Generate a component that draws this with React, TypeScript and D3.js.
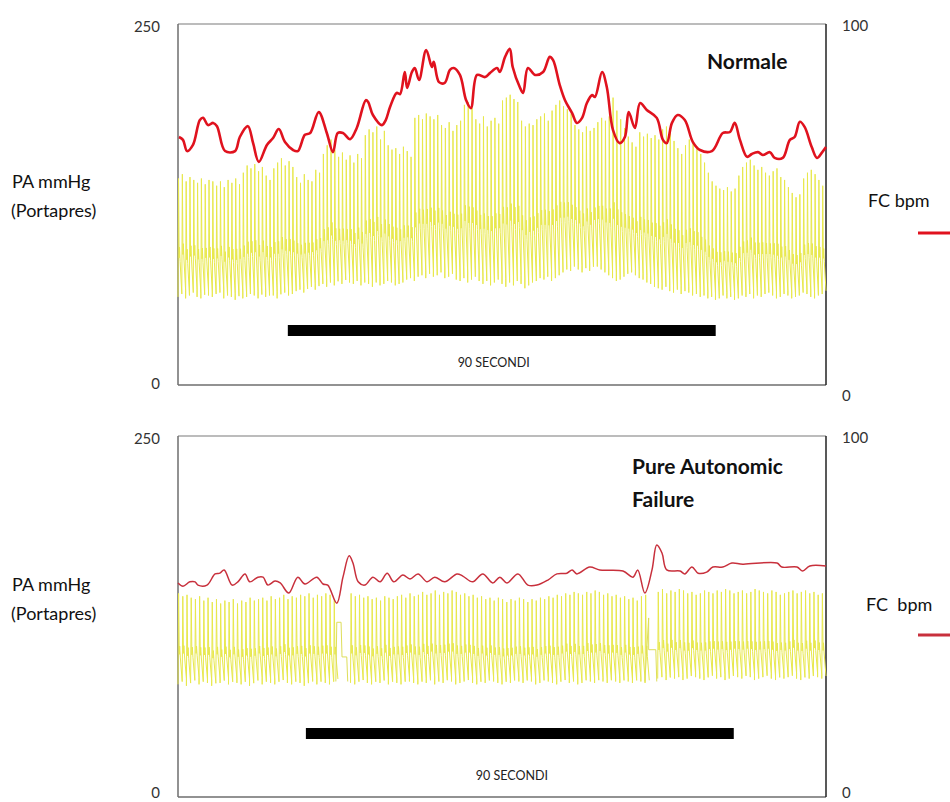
import React from "react";
import * as d3 from "d3";

// ---- time axis (seconds) ----
const T_TOTAL = 136.3;

// ---- Top panel (Normale): heart rate FC bpm ----
const hrTopTime = [0.2,1.05,1.9,3.15,4.6,5.3,6.3,7.4,8.2,9.9,12.0,13.0,14.7,15.8,17.0,18.7,20.0,21.2,22.5,24.2,25.2,26.7,27.8,29.6,31.3,32.6,33.6,34.7,36.2,37.6,39.5,40.0,41.0,42.9,43.7,44.6,46.0,46.7,47.7,48.2,49.2,49.8,50.7,52.2,53.4,53.8,54.9,56.1,57.2,58.0,59.3,60.6,61.6,62.9,64.6,65.6,67.1,67.7,68.8,69.8,70.4,71.9,72.6,73.6,75.1,76.8,78.2,78.9,80.3,81.4,82.9,83.9,85.0,86.0,87.1,87.7,89.2,90.2,91.5,92.9,94.0,94.8,96.1,97.2,98.6,100.7,102.0,102.8,103.9,105.1,106.6,108.3,109.8,112.3,114.6,116.1,117.1,118.2,119.7,120.7,122.0,123.0,124.5,125.5,127.2,128.7,129.7,130.8,131.8,133.3,134.4,135.4,136.3];
const hrTopBpm = [68.7,67.9,64.8,66.5,73.4,74.0,72.0,72.6,71.7,64.8,64.8,68.7,71.7,67.0,61.8,66.5,68.4,70.9,67.3,65.1,64.8,69.3,69.8,75.6,69.8,64.5,69.8,69.8,68.1,71.2,78.9,78.4,74.8,72.0,73.4,77.0,80.9,80.6,86.7,82.3,86.7,87.8,84.5,92.8,88.1,89.5,83.9,83.7,87.3,87.8,85.9,78.9,76.7,85.9,85.3,86.4,87.8,86.7,90.9,93.1,88.1,82.5,80.9,87.8,85.9,86.7,90.9,90.0,83.1,78.9,75.3,72.6,74.0,78.1,80.3,79.8,86.7,82.5,70.6,67.0,68.7,75.6,71.2,78.1,76.2,74.0,67.9,67.0,72.6,74.8,73.4,67.3,65.1,64.8,69.8,70.1,72.6,67.9,63.2,64.0,64.5,63.7,64.5,62.9,62.9,67.9,68.7,72.9,71.5,65.9,62.9,64.3,65.9];

// ---- Top panel: blood pressure per beat (mmHg) ----
const bpTopSys = [
  143,146,141,144,142, 140,143,139,142,141, 138,141,137,142,140, 143,139,147,152,150,
  153,148,151,145,142, 150,154,157,152,155, 151,144,140,146,142, 141,149,147,160,166,
  170,163,158,161,156, 159,154,160,157,173, 177,175,179,170,176, 166,163,164,160,165,
  162,158,185,187,184, 188,186,184,187,180, 178,182,176,180,183, 194,196,192,184,181,
  186,179,183,185,181, 197,199,201,198,196, 183,179,181,180,184, 186,188,183,190,194,
  197,193,191,188,180, 177,175,179,176,178, 182,185,183,186,199, 190,184,178,172,168,
  165,175,172,174,171, 173,170,177,179,175, 169,164,160,166,170, 168,165,160,154,147,
  141,138,136,135,137, 134,136,145,151,154, 156,152,149,151,147, 145,148,150,144,142,
  137,133,130,132,143, 147,149,146,142,138
];
const bpTopDia = [
  61,63,60,62,64,61,60,63,62,61, 63,64,60,62,61,59,62,60,61,63,
  62,60,63,61,62,62,60,63,64,62, 63,65,66,64,67,68,66,69,70,68,
  71,69,72,70,73,71,70,72,69,71, 70,68,71,69,70,72,71,69,70,71,
  73,74,72,75,76,74,77,75,76,78, 74,75,77,73,72,74,71,73,75,72,
  70,72,69,71,73,70,68,71,69,72, 70,67,69,71,72,74,73,75,72,74,
  76,78,80,79,82,80,78,81,79,83, 82,80,78,76,74,72,73,75,77,78,
  76,74,73,71,70,68,67,66,68,65, 64,66,63,65,64,62,63,61,62,60,
  61,59,60,62,60,61,59,60,62,61, 63,60,62,61,63,64,62,60,61,63,
  62,60,61,62,64,63,61,60,62,63
];

// ---- Bottom panel (Pure Autonomic Failure): heart rate ----
const hrBotTime = [0,1.05,2.5,3.6,4.2,6.1,7.8,8.8,9.7,11.4,12.6,14.1,15.1,16.8,17.9,18.9,20.4,21.5,23.3,25.2,26.7,29.2,30.5,31.5,33.4,34.7,36.0,36.8,37.9,39.3,41.0,42.5,44.0,45.4,47.3,48.8,50.5,52.4,54.0,56.1,58.7,59.9,62.0,64.1,66.2,67.7,69.2,71.5,73.6,75.5,77.8,79.7,81.8,82.9,83.9,86.6,88.7,93.6,95.7,96.7,98.2,99.7,100.7,101.8,102.8,105.6,106.6,108.1,109.4,111.2,112.5,114.6,116.5,118.8,126.0,127.0,130.2,131.4,132.9,136.3];
const hrBotBpm = [59.3,58.4,59.6,59.6,58.7,58.7,61.8,62.0,62.9,58.7,59.6,61.8,59.6,60.9,60.9,58.7,59.8,59.3,56.5,60.9,59.0,60.9,59.0,58.7,53.7,60.9,66.8,64.8,59.6,58.7,60.9,59.6,62.0,59.6,61.5,60.4,61.8,59.6,60.9,59.6,61.8,61.2,59.6,61.8,59.3,60.9,59.3,61.8,58.7,58.7,60.1,61.8,62.0,62.9,61.8,63.7,62.9,62.6,60.9,62.9,56.5,62.9,69.8,67.6,62.9,62.6,61.8,63.7,62.0,62.3,63.7,63.7,64.8,64.5,64.8,63.7,63.7,62.6,64.0,64.0];

// ---- Bottom panel: blood pressure per beat (null = Portapres calibration gap) ----
const bpBotSys = [
  141,139,140,138,137,139,136,138,135,137, 134,136,135,137,134,136,135,138,136,137,
  138,136,139,137,138,140,137,139,138,140, 139,141,138,140,139,141,140,137,null,null,
  null,141,139,140,138,139,137,138,136,139, 138,137,139,140,138,141,139,140,142,140,
  141,143,140,142,141,143,142,140,141,139, 140,138,139,137,138,136,138,137,135,137,
  136,138,137,135,137,136,138,137,139,138, 140,139,141,140,142,141,140,142,141,143,
  142,140,141,139,140,138,139,137,138,136, 139,140,null,null,142,144,141,143,142,144,
  143,141,142,140,141,143,142,141,143,142, 144,143,141,142,143,141,142,144,143,142,
  141,143,142,140,141,142,143,141,142,143, 141,142,140,141
];
const bpBotDia = [
  78,80,77,79,81,78,80,79,77,80, 79,81,78,80,79,78,80,77,79,81,
  78,80,79,78,80,81,79,78,80,79, 77,79,80,78,80,79,78,80,null,null,
  null,79,78,80,81,79,78,80,79,81, 78,80,79,78,81,80,79,78,80,79,
  81,78,80,79,81,80,78,79,80,81, 79,78,80,79,81,80,79,78,80,79,
  81,80,79,81,80,78,79,81,80,79, 78,80,81,79,80,78,79,81,80,79,
  81,80,79,81,80,79,81,80,79,81, 80,79,null,null,82,83,81,84,82,83,
  81,82,84,83,82,81,83,84,82,83, 81,82,84,83,82,84,83,81,82,83,
  84,82,81,83,82,83,84,82,81,83, 82,84,83,82
];
// calibration traces inside the gaps (seconds, mmHg)
const calBotTime = [[33.2,33.4,34.3,34.5,35.5,35.7],[98.2,99.0,99.0,100.5,100.7]];
const calBotLevel = [[80,121,121,97,97,80],[80,124,102,102,80]];

// ---- 90 s marker bars (start seconds, duration) ----
const barStart = [23.1, 26.9];
const barDuration = 90;

// ---- axes ticks ----
const leftTicks = [0, 250];
const rightTicks = [0, 100];

// beat waveform shape (fraction of beat period, fraction of pulse pressure)
const beatShape: [number, number][] = [[0, 0], [0.14, 1], [0.3, 0.33], [0.4, 0.42], [0.55, 0.3], [1, 0.03]];

const X0 = 178, X1 = 826;
const FONT = "Lato, 'Open Sans', sans-serif";

function wavePath(sys: (number | null)[], dia: (number | null)[], x: any, y: any) {
  const n = sys.length;
  const p = T_TOTAL / n;
  let d = "";
  let penUp = true;
  for (let i = 0; i < n; i++) {
    const s = sys[i], di = dia[i];
    if (s == null || di == null) { penUp = true; continue; }
    for (const [f, l] of beatShape) {
      const px = x(i * p + f * p), py = y(di + l * (s - di));
      d += (penUp ? "M" : "L") + px.toFixed(2) + "," + py.toFixed(2);
      penUp = false;
    }
  }
  return d;
}

function Panel(props: any) {
  const { top, bottom, hrT, hrV, sys, dia, calT, calL, bar, title, titleX, titleY, hrColor, hrWidth, fcLabel, legendY, fcY, paY, barY, secY } = props;
  const x = d3.scaleLinear().domain([0, T_TOTAL]).range([X0, X1]);
  const yBP = d3.scaleLinear().domain([0, 250]).range([bottom, top]);
  const yHR = d3.scaleLinear().domain([0, 100]).range([bottom, top]);
  const hrLine = d3.line<number>().x((_, i) => x(hrT[i])).y((v) => yHR(v)).curve(d3.curveCatmullRom.alpha(0.5));
  const wp = wavePath(sys, dia, x, yBP);
  return (
    <g>
      {/* frame */}
      <line x1={X0} x2={X1} y1={top} y2={top} stroke="#a6a6a6" strokeWidth={1.5} />
      <line x1={X0} x2={X1} y1={bottom} y2={bottom} stroke="#6e6e6e" strokeWidth={1.5} />
      <line x1={X0} x2={X0} y1={top} y2={bottom} stroke="#6e6e6e" strokeWidth={1.5} />
      <line x1={X1} x2={X1} y1={top} y2={bottom} stroke="#222" strokeWidth={1.5} />
      {/* BP waveform */}
      <path d={wp} fill="none" stroke="#e8e84c" strokeWidth={1} strokeLinejoin="round" />
      {calT && calT.map((ts: number[], k: number) => (
        <path key={k} fill="none" stroke="#dede5a" strokeWidth={1}
          d={d3.line<number>().x((_, i) => x(ts[i])).y((v) => yBP(v))(calL[k]) || ""} />
      ))}
      {/* HR */}
      <path d={hrLine(hrV) || ""} fill="none" stroke={hrColor} strokeWidth={hrWidth} strokeLinejoin="round" />
      {/* 90 s bar */}
      <rect x={x(bar)} y={barY} width={x(bar + barDuration) - x(bar)} height={11} fill="#000" />
      <text x={(x(bar) + x(bar + barDuration)) / 2 - 8} y={secY} fontSize={12.5} fontFamily={FONT} textAnchor="middle" fill="#222">90 SECONDI</text>
      {/* ticks */}
      {leftTicks.map((t) => (
        <text key={"l" + t} x={160} y={Math.min(yBP(t) + (t === 0 ? 4 : 8), 798)} fontSize={15} fontFamily={FONT} textAnchor="end" fill="#333">{t}</text>
      ))}
      {rightTicks.map((t) => (
        <text key={"r" + t} x={842} y={Math.min(yHR(t) + (t === 0 ? 16 : 7), 798)} fontSize={15} fontFamily={FONT} textAnchor="start" fill="#333">{t}</text>
      ))}
      {/* labels */}
      <text x={12} y={paY} fontSize={18} fontFamily={FONT} fill="#111">PA mmHg</text>
      <text x={11} y={paY + 29} fontSize={18} fontFamily={FONT} fill="#111">(Portapres)</text>
      <text x={fcLabel.x} y={fcY} fontSize={18} fontFamily={FONT} fill="#111" style={{ whiteSpace: "pre" }}>{fcLabel.t}</text>
      <line x1={918} x2={950} y1={legendY} y2={legendY} stroke={hrColor} strokeWidth={3} />
      {title.map((s: string, i: number) => (
        <text key={i} x={titleX} y={titleY + i * 33} fontSize={21} fontWeight="bold" fontFamily={FONT} fill="#111">{s}</text>
      ))}
    </g>
  );
}

export default function App() {
  return (
    <svg width={950} height={802} style={{ position: "absolute", left: 0, top: 0, background: "#fff" }}>
      <rect width={950} height={802} fill="#fff" />
      <Panel top={24} bottom={385} hrT={hrTopTime} hrV={hrTopBpm} sys={bpTopSys} dia={bpTopDia}
        bar={barStart[0]} title={["Normale"]} titleX={707} titleY={69} hrColor="#e0121e" hrWidth={2.6}
        fcLabel={{ x: 868, t: "FC bpm" }} legendY={233} fcY={207} paY={188} barY={325} secY={367} />
      <Panel top={436} bottom={797} hrT={hrBotTime} hrV={hrBotBpm} sys={bpBotSys} dia={bpBotDia}
        calT={calBotTime} calL={calBotLevel}
        bar={barStart[1]} title={["Pure Autonomic", "Failure"]} titleX={632} titleY={474} hrColor="#c8303c" hrWidth={1.5}
        fcLabel={{ x: 866, t: "FC  bpm" }} legendY={635} fcY={611} paY={591} barY={728} secY={780} />
    </svg>
  );
}
